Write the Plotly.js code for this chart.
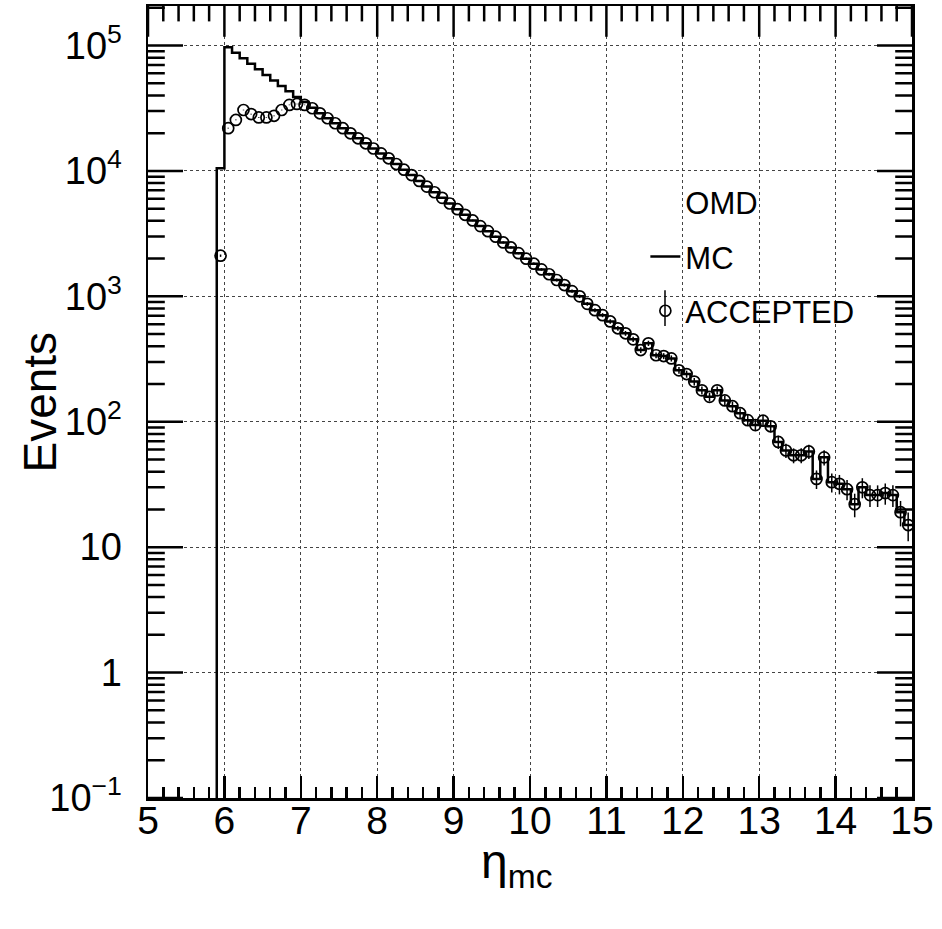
<!DOCTYPE html>
<html><head><meta charset="utf-8">
<script src="https://cdn.plot.ly/plotly-3.0.1.min.js"></script>
<style>html,body{margin:0;padding:0;background:#fff}#chart{width:942px;height:929px}</style>
</head><body><div id="chart"></div>
<script>
// Histogram binning: low edges of bins (width 0.1)
const binLowEdges = [5.8,5.9,6.0,6.1,6.2,6.3,6.4,6.5,6.6,6.7,6.8,6.9,7.0,7.1,7.2,7.3,7.4,7.5,7.6,7.7,7.8,7.9,
  8.0,8.1,8.2,8.3,8.4,8.5,8.6,8.7,8.8,8.9,9.0,9.1,9.2,9.3,9.4,9.5,9.6,9.7,9.8,9.9,
  10.0,10.1,10.2,10.3,10.4,10.5,10.6,10.7,10.8,10.9,11.0,11.1,11.2,11.3,11.4,11.5,11.6,11.7,11.8,11.9,
  12.0,12.1,12.2,12.3,12.4,12.5,12.6,12.7,12.8,12.9,13.0,13.1,13.2,13.3,13.4,13.5,13.6,13.7,13.8,13.9,
  14.0,14.1,14.2,14.3,14.4,14.5,14.6,14.7,14.8,14.9];
const binWidth = 0.1;

// MC histogram contents
const mcCounts = [0,10500,96900,87500,79100,71400,64600,58300,52700,47600,43100,38900,35500,31900,
  28800,26300,24000,21900,19950,18200,16600,15100,
  13800,12600,11350,10230,9270,8320,7500,6760,6100,5500,
  4950,4470,4030,3630,3310,2990,2690,2455,2210,1995,
  1820,1640,1500,1350,1230,1100,1000,871,776,708,
  631,556,507,454,373,422,339,334,320,257,
  240,209,178,158,178,148,133,117,103,94,
  102,92,69,59,54,54,58,35,52,33,
  32,29,22,30,26,26,27,26,19,15];

// ACCEPTED contents
const acceptedCounts = [0,2110,21900,25500,30600,28400,26700,26700,27500,30600,33600,34200,33600,31600,
  28800,26300,24000,21900,19950,18200,16600,15100,
  13800,12600,11350,10230,9270,8320,7500,6760,6100,5500,
  4950,4470,4030,3630,3310,2990,2690,2455,2210,1995,
  1820,1640,1500,1350,1230,1100,1000,871,776,708,
  631,556,507,454,373,422,339,334,320,257,
  240,209,178,158,178,148,133,117,103,94,
  102,92,69,59,54,54,58,35,52,33,
  32,29,22,30,26,26,27,26,19,15];

const xTickVals = [5,6,7,8,9,10,11,12,13,14,15];
const yTickVals = [0.1,1,10,100,1000,10000,100000];
const yTickText = ['10<sup>\u22121</sup>','1','10','10<sup>2</sup>','10<sup>3</sup>','10<sup>4</sup>','10<sup>5</sup>'];

const FONT = '"Liberation Sans", Arial, Helvetica, sans-serif';
const X_RANGE = [5, 15];
const Y_RANGE = [-1, 5.315];   // log10 range

// minor tick positions (0.2 steps on x; 2..9 per decade on the log y axis)
const xMinorVals = [];
for (let i = 0; i <= 50; i++) { const v = +(5 + i * 0.2).toFixed(1); if (!xTickVals.includes(v)) xMinorVals.push(v); }
const yMinorVals = [];
for (let d = -1; d <= 5; d++) for (let k = 2; k <= 9; k++) { const v = k * Math.pow(10, d); if (Math.log10(v) < Y_RANGE[1]) yMinorVals.push(v); }

// Build step line (empty bins drawn down to below the axis like ROOT)
const FLOOR = 1e-3;
const n = binLowEdges.length;
const mcX = binLowEdges.concat([binLowEdges[n-1] + binWidth]);
const mcY = mcCounts.map(v => v > 0 ? v : FLOOR).concat([mcCounts[n-1]]);
const accX = [], accY = [];
binLowEdges.forEach((e, i) => {
  if (acceptedCounts[i] > 0) { accX.push(+(e + binWidth/2).toFixed(3)); accY.push(acceptedCounts[i]); }
});

// Frame ticks on left, right and top, drawn as line markers centred on the frame
// (half of each marker is clipped away, leaving an inward tick)
const yTop = Math.pow(10, Y_RANGE[1]);
function tickTrace(xs, ys, symbol, len) {
  return {x:xs, y:ys, mode:'markers', showlegend:false, hoverinfo:'skip', cliponaxis:true,
    marker:{symbol:symbol, size:2 * len, color:'#000', line:{color:'#000', width:2.5}}};
}
const sideX = (vals) => vals.map(() => X_RANGE[0]).concat(vals.map(() => X_RANGE[1]));
const sideY = (vals) => vals.concat(vals);

const traces = [
  {x:[null], y:[null], mode:'none', name:'OMD', showlegend:true, legendgroup:'g0', hoverinfo:'skip'},
  {x:mcX, y:mcY, mode:'lines', name:'MC', legendgroup:'g1',
   line:{shape:'hv', color:'#000', width:2.5}},
  {x:accX, y:accY, mode:'markers', name:'ACCEPTED', legendgroup:'g2',
   marker:{symbol:'circle-open', size:11, color:'#000', line:{width:1.7, color:'#000'}},
   error_y:{type:'sqrt', visible:true, color:'#000', thickness:1.5, width:0}},
  tickTrace(sideX(yTickVals), sideY(yTickVals), 'line-ew', 25),
  tickTrace(sideX(yMinorVals), sideY(yMinorVals), 'line-ew', 12),
  tickTrace(xTickVals, xTickVals.map(() => yTop), 'line-ns', 22),
  tickTrace(xMinorVals, xMinorVals.map(() => yTop), 'line-ns', 11)
];

const layout = {
  width:942, height:929,
  margin:{l:148, r:30, t:6, b:131},
  paper_bgcolor:'#fff', plot_bgcolor:'#fff',
  font:{family:FONT, color:'#000'},
  showlegend:true,
  legend:{x:0.651, y:0.786, xanchor:'left', yanchor:'top', bgcolor:'rgba(0,0,0,0)',
          font:{size:31, family:FONT}, traceorder:'grouped', tracegroupgap:11, itemwidth:30},
  xaxis:{
    range:X_RANGE, tickmode:'array', tickvals:xTickVals, ticktext:xTickVals.map(String),
    ticks:'inside', ticklen:22, tickwidth:2.5, tickcolor:'#000',
    showline:true, linewidth:2.5, linecolor:'#000', mirror:true, zeroline:false, fixedrange:true,
    showgrid:true, gridcolor:'#444', gridwidth:1, griddash:'dot',
    minor:{ticks:'inside', ticklen:11, tickwidth:2.5, tickcolor:'#000', dtick:0.2, tick0:5, showgrid:false},
    tickfont:{size:39, family:FONT}, ticklabelstandoff:-13
  },
  yaxis:{
    type:'log', range:Y_RANGE, tickmode:'array', tickvals:yTickVals, ticktext:yTickText,
    ticks:'', showline:true, linewidth:2.5, linecolor:'#000', mirror:true, zeroline:false, fixedrange:true,
    showgrid:true, gridcolor:'#444', gridwidth:1, griddash:'dot',
    tickfont:{size:38, family:FONT}, ticklabelstandoff:16
  },
  annotations:[
    {text:'\u03b7<sub>mc</sub>', xref:'paper', yref:'paper', x:0.482, y:-0.085, xanchor:'center', yanchor:'middle',
     showarrow:false, font:{size:48, family:FONT, color:'#000'}},
    {text:'Events', xref:'paper', yref:'paper', x:-0.142, y:0.5, xanchor:'center', yanchor:'middle',
     textangle:-90, showarrow:false, font:{size:46, family:FONT, color:'#000'}}
  ],
  shapes:[
    // vertical error-bar stroke of the ACCEPTED legend glyph
    {type:'line', xref:'paper', yref:'paper', x0:0.6767, x1:0.6767, y0:0.596, y1:0.641,
     line:{color:'#000', width:1.5}}
  ]
};

Plotly.newPlot('chart', traces, layout, {displayModeBar:false, staticPlot:true});
</script>
</body></html>
